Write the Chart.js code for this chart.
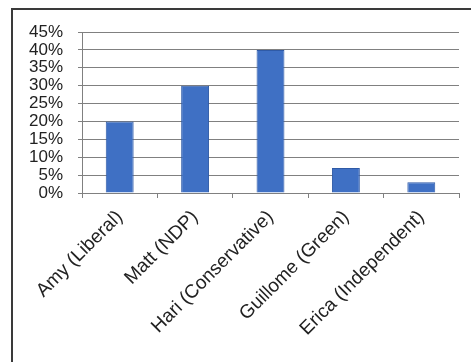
<!DOCTYPE html>
<html>
<head>
<meta charset="utf-8">
<script src="https://cdn.jsdelivr.net/npm/chart.js@4"></script>
<style>
  html, body { margin: 0; padding: 0; background: #fff; }
  #wrap { position: relative; width: 471px; height: 362px; overflow: hidden; }
  #frame {
    position: absolute; left: 11px; top: 8px; right: -2px; bottom: -2px;
    border-left: 2px solid #3a3a3a; border-top: 2px solid #3a3a3a;
  }
  #chart { position: absolute; left: 0; top: 0; }
</style>
</head>
<body>
<div id="wrap">
  <div id="frame"></div>
  <canvas id="chart" width="471" height="362"></canvas>
</div>
<script>
// candidates and their share of the vote
var candidates = ['Amy (Liberal)', 'Matt (NDP)', 'Hari (Conservative)', 'Guillome (Green)', 'Erica (Independent)'];
var votes = [20, 30, 40, 7, 3];
var yMax = 45;
var yStep = 5;

var ctx = document.getElementById('chart').getContext('2d');
new Chart(ctx, {
    type: 'bar',
    data: {
        labels: candidates,
        datasets: [{
            data: votes,
            backgroundColor: '#3f70c4',
            borderColor: '#2f5aa6',
            borderWidth: 1,
            categoryPercentage: 1,
            barPercentage: 0.37
        }]
    },
    options: {
        responsive: false,
        animation: false,
        layout: {
            padding: { left: 0, right: 12, top: 32, bottom: 0 }
        },
        plugins: {
            legend: { display: false },
            tooltip: { enabled: false }
        },
        scales: {
            x: {
                offset: true,
                afterFit: function(scale) { scale.height = 169; },
                grid: {
                    offset: true,
                    drawOnChartArea: false,
                    tickLength: 5,
                    color: '#808080'
                },
                border: { color: '#808080' },
                ticks: {
                    minRotation: 45,
                    maxRotation: 45,
                    padding: 8,
                    color: '#222',
                    font: { family: 'Liberation Sans', size: 19 }
                }
            },
            y: {
                min: 0,
                max: yMax,
                afterFit: function(scale) { scale.width = 82; },
                grid: {
                    tickLength: 4,
                    color: '#808080'
                },
                border: { color: '#808080' },
                ticks: {
                    stepSize: yStep,
                    autoSkip: false,
                    padding: 15,
                    color: '#222',
                    font: { family: 'Liberation Sans', size: 17, lineHeight: 1 },
                    callback: function(v) { return v + '%'; }
                }
            }
        }
    }
});
</script>
</body>
</html>
